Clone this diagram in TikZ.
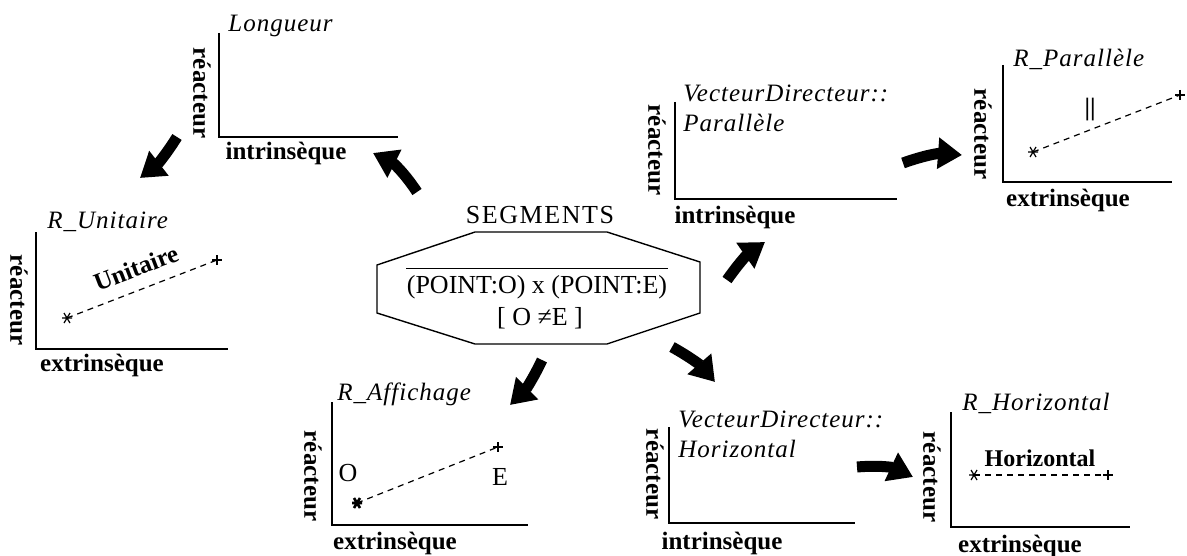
\documentclass[tikz,border=0pt]{standalone}
\usepackage{fontspec}
\setmainfont{Liberation Serif}
\usetikzlibrary{arrows.meta}
\newcommand{\titrefont}{\fontsize{12.5}{15}\selectfont\itshape\addfontfeatures{LetterSpace=4}}
\newcommand{\axefont}{\fontsize{12.5}{14}\selectfont\bfseries}
\newcommand{\boitefont}{\fontsize{13}{16}\selectfont}
\tikzset{axes/.style={line width=0.9pt},
  fleche/.style={line width=5.5pt,-{Triangle[length=12pt,width=15pt]}},
  pointille/.style={line width=0.6pt,dash pattern=on 3pt off 2.5pt},
  titre/.style={anchor=base west,inner sep=0,font=\titrefont,align=left},
  lbl/.style={inner sep=0,font=\axefont},
  vlbl/.style={lbl,rotate=-90},
  croix/.pic={\draw (-5,0) -- (5,0) (0,-5) -- (0,5);},
  etoile/.pic={\draw (-5,0) -- (5,0) (-3,-5) -- (3,5) (-3,5) -- (3,-5);}}
\begin{document}
\begin{tikzpicture}[x=0.5pt,y=-0.5pt]
\useasboundingbox (0,0) rectangle (1187,556);
% octogone central
\draw[line width=0.7pt] (475,232) -- (607,232) -- (700,262) -- (700,313) -- (607,344) -- (475,344) -- (377,313) -- (377,265) -- cycle;
\node[inner sep=0,font=\boitefont\addfontfeatures{LetterSpace=6}] (seg) at (540,215) {SEGMENTS};
\node[inner sep=0,font=\boitefont] (prod) at (537,287) {(POINT:O) x (POINT:E)};
\draw[line width=0.6pt] ([yshift=3pt]prod.north west) -- ([yshift=3pt]prod.north east);
\node[inner sep=0,font=\boitefont] (cond) at (540,318) {[ O ≠E ]};
% Longueur
\draw[axes] (219,33) |- (398,137);
\node[titre] (tLong) at (228,32) {Longueur};
\node[vlbl] (rLong) at (202,93) {réacteur};
\node[lbl] (iLong) at (286,153) {intrinsèque};
% R_Unitaire
\draw[axes] (36,232) |- (228,349);
\node[titre] (tUni) at (47,228) {R\_Unitaire};
\node[vlbl] (rUni) at (19,300) {réacteur};
\node[lbl] (eUni) at (102,365) {extrinsèque};
\coordinate (u0) at (67,318);
\coordinate (u1) at (217,260);
\draw[pointille] (u0) -- (u1);
\pic[line width=0.6pt] at (u0) {etoile};
\pic[line width=0.6pt] at (u1) {croix};
\node[lbl,font=\fontsize{12.5}{14}\selectfont\bfseries,rotate=21] (lUni) at (136,268) {Unitaire};
% VecteurDirecteur::Parallele
\draw[axes] (675,102) |- (897,199);
\node[titre] (tVPar) at (683,132) {VecteurDirecteur::\\Parallèle};
\node[vlbl] (rVPar) at (657,150) {réacteur};
\node[lbl] (iVPar) at (735,217) {intrinsèque};
% R_Parallele
\draw[axes] (1003,65) |- (1172,182);
\node[titre] (tPar) at (1013,67) {R\_Parallèle};
\node[vlbl] (rPar) at (983,134) {réacteur};
\node[lbl] (ePar) at (1068,200) {extrinsèque};
\coordinate (p0) at (1033,152);
\coordinate (p1) at (1180,95);
\draw[pointille] (p0) -- (p1);
\pic[line width=0.6pt] at (p0) {etoile};
\pic[line width=0.6pt] at (p1) {croix};
\node[lbl] (lPar) at (1090,110) {||};
% R_Affichage
\draw[axes] (332,402) |- (528,525);
\node[titre] (tAff) at (337,400) {R\_Affichage};
\node[vlbl] (rAff) at (313,476) {réacteur};
\node[lbl] (eAff) at (395,543) {extrinsèque};
\coordinate (a0) at (357,503);
\coordinate (a1) at (498,447);
\draw[pointille] (a0) -- (a1);
\pic[line width=1.3pt] at (a0) {etoile};
\pic[line width=1.3pt] at (a1) {croix};
\node[inner sep=0,font=\boitefont] (nO) at (348,473) {O};
\node[inner sep=0,font=\boitefont] (nE) at (500,477) {E};
% VecteurDirecteur::Horizontal
\draw[axes] (669,427) |- (855,523);
\node[titre] (tVHor) at (678,457) {VecteurDirecteur::\\Horizontal};
\node[vlbl] (rVHor) at (655,474) {réacteur};
\node[lbl] (iVHor) at (722,543) {intrinsèque};
% R_Horizontal
\draw[axes] (951,412) |- (1130,527);
\node[titre] (tHor) at (962,410) {R\_Horizontal};
\node[vlbl] (rHor) at (932,477) {réacteur};
\node[lbl] (eHor) at (1020,546) {extrinsèque};
\coordinate (h0) at (974,475);
\coordinate (h1) at (1108,475);
\draw[pointille] (h0) -- (h1);
\pic[line width=0.6pt] at (h0) {etoile};
\pic[line width=0.6pt] at (h1) {croix};
\node[lbl,font=\fontsize{12}{14}\selectfont\bfseries] (lHor) at (1040,458) {Horizontal};
% fleches
\coordinate (f1a) at (417,192); \coordinate (f1b) at (373,153);
\coordinate (f2a) at (177,137); \coordinate (f2b) at (140,178);
\coordinate (f3a) at (727,280); \coordinate (f3b) at (765,242);
\coordinate (f4a) at (542,360); \coordinate (f4b) at (510,405);
\coordinate (f5a) at (672,347); \coordinate (f5b) at (715,382);
\coordinate (f6a) at (903,163); \coordinate (f6b) at (962,155);
\coordinate (f7a) at (857,467); \coordinate (f7b) at (913,477);
\draw[fleche] (f1a) to[bend right=15] (f1b);
\draw[fleche] (f2a) to[bend left=10] (f2b);
\draw[fleche] (f3a) to[bend left=10] (f3b);
\draw[fleche] (f4a) to[bend left=10] (f4b);
\draw[fleche] (f5a) to[bend left=10] (f5b);
\draw[fleche] (f6a) to[bend left=12] (f6b);
\draw[fleche] (f7a) to[bend left=15] (f7b);
\end{tikzpicture}
\end{document}
